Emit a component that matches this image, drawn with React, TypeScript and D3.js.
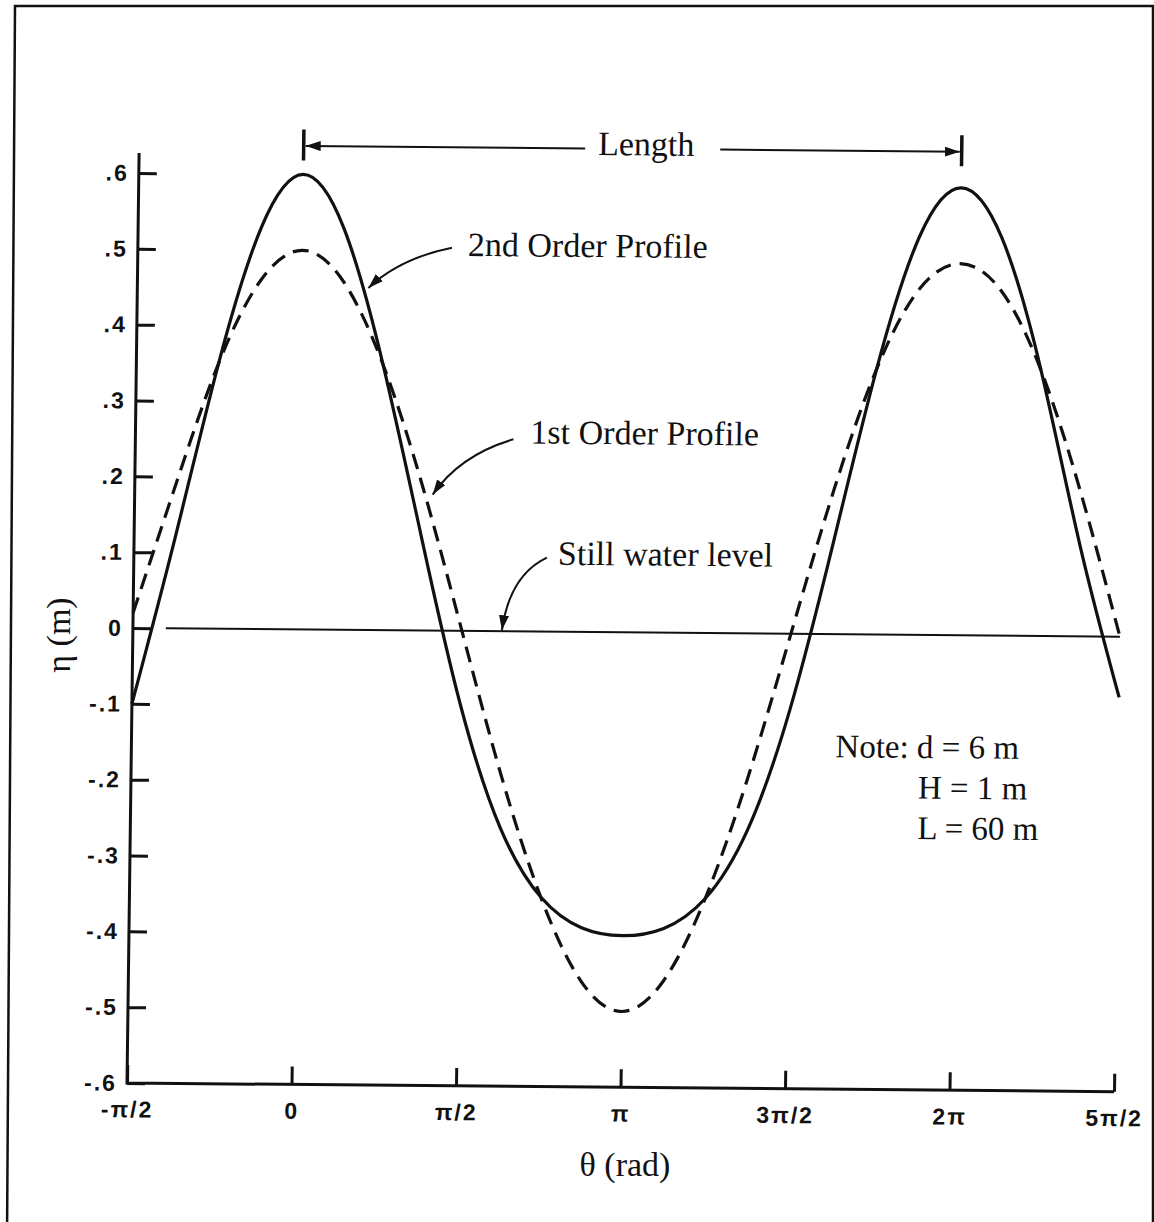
import * as d3 from 'd3';
import React, { useRef, useEffect } from 'react';

// phase angle, in units of pi
const thetaPi = [-0.5, -0.375, -0.25, -0.125, 0, 0.125, 0.25, 0.375, 0.5, 0.625, 0.75, 0.875, 1,
    1.125, 1.25, 1.375, 1.5, 1.625, 1.75, 1.875, 2, 2.125, 2.25, 2.375, 2.5];
// surface elevation (m)
const firstOrder = [0.02, 0.19, 0.35, 0.46, 0.50, 0.46, 0.35, 0.19, 0.0, -0.19, -0.35, -0.46, -0.50,
    -0.46, -0.35, -0.19, 0.0, 0.19, 0.35, 0.455, 0.49, 0.455, 0.35, 0.19, 0.0];
const secondOrder = [-0.10, 0.12, 0.35, 0.53, 0.60, 0.53, 0.35, 0.12, -0.10, -0.26, -0.35, -0.39, -0.40,
    -0.39, -0.35, -0.26, -0.10, 0.12, 0.35, 0.525, 0.59, 0.525, 0.35, 0.12, -0.08];

const yTicks = [0.6, 0.5, 0.4, 0.3, 0.2, 0.1, 0, -0.1, -0.2, -0.3, -0.4, -0.5, -0.6];
const xTicks = [-0.5, 0, 0.5, 1, 1.5, 2, 2.5];
const xTickLabels = ['-π/2', '0', 'π/2', 'π', '3π/2', '2π', '5π/2'];
const stillWater = [-0.4, 2.5];
const crests = [0, 2];
const noteLines = ['Note: d = 6 m', 'H = 1 m', 'L = 60 m'];

function WaveProfile() {
    const ref = useRef<SVGSVGElement>(null);

    useEffect(() => {
        draw();
    }, []);

    const draw = () => {
        const svg = d3.select(ref.current);
        svg.selectAll('*').remove();

        const ink = '#111';
        const serif = '"Liberation Serif", "Times New Roman", serif';
        const sans = '"Liberation Sans", Arial, sans-serif';

        const x = d3.scaleLinear().domain([-0.5, 2.5]).range([127, 1114]);
        const y = d3.scaleLinear().domain([-0.6, 0.6]).range([1083, 173]);
        const x0 = x(-0.5), y0 = y(-0.6);

        // page frame
        svg.append('path')
            .attr('d', 'M7,1240 L15,6 L1153,6 L1153,1240')
            .attr('fill', 'none')
            .attr('stroke', ink)
            .attr('stroke-width', 2.5);

        const defs = svg.append('defs');
        defs.append('marker')
            .attr('id', 'head')
            .attr('viewBox', '0 0 15 10')
            .attr('refX', 15).attr('refY', 5)
            .attr('markerWidth', 15).attr('markerHeight', 10)
            .attr('markerUnits', 'userSpaceOnUse')
            .attr('orient', 'auto')
            .append('path')
            .attr('d', 'M0,0L15,5L0,10z')
            .attr('fill', ink);

        // the scan is slightly sheared
        const shx = -0.013, shy = 0.0088;
        const g = svg.append('g')
            .attr('transform', `matrix(1,${shy},${shx},1,${-shx * y0},${-shy * x0})`);

        // AXES
        const fmt = (d: number) => d === 0 ? '0' : (d < 0 ? '-' : '') + '.' + Math.round(Math.abs(d) * 10);
        const yAxis = d3.axisLeft(y)
            .tickValues(yTicks)
            .tickSizeInner(-18)
            .tickSizeOuter(0)
            .tickPadding(10)
            .tickFormat(d => fmt(+d));
        const ya = g.append('g').attr('transform', `translate(${x0},0)`).call(yAxis);
        ya.select('.domain').remove();

        const xAxis = d3.axisBottom(x)
            .tickValues(xTicks)
            .tickSizeInner(-18)
            .tickSizeOuter(0)
            .tickPadding(18)
            .tickFormat((d, i) => xTickLabels[i]);
        const xa = g.append('g').attr('transform', `translate(0,${y0})`).call(xAxis);
        xa.select('.domain').remove();

        [ya, xa].forEach(a => {
            a.selectAll('line').attr('stroke', ink).attr('stroke-width', 3);
            a.selectAll('text')
                .attr('font-family', sans)
                .attr('font-weight', 'bold')
                .attr('font-size', 23)
                .attr('letter-spacing', 2)
                .attr('fill', ink);
        });

        g.append('path')
            .attr('d', `M${x0},${y(0.6) - 20} L${x0},${y0} L${x(2.5)},${y0}`)
            .attr('fill', 'none')
            .attr('stroke', ink)
            .attr('stroke-width', 3);

        // STILL WATER LEVEL
        g.append('line')
            .attr('x1', x(stillWater[0])).attr('x2', x(stillWater[1]))
            .attr('y1', y(0)).attr('y2', y(0))
            .attr('stroke', ink)
            .attr('stroke-width', 2);

        // PROFILES
        const line = d3.line<number>()
            .x((d, i) => x(thetaPi[i]))
            .y(d => y(d))
            .curve(d3.curveNatural);

        g.append('path')
            .attr('d', line(firstOrder))
            .attr('fill', 'none')
            .attr('stroke', ink)
            .attr('stroke-width', 3.2)
            .attr('stroke-dasharray', '16 9');

        g.append('path')
            .attr('d', line(secondOrder))
            .attr('fill', 'none')
            .attr('stroke', ink)
            .attr('stroke-width', 3.2);

        // LENGTH DIMENSION
        const top = y(0.6);
        crests.forEach(c => {
            g.append('line')
                .attr('x1', x(c)).attr('x2', x(c))
                .attr('y1', top - 45).attr('y2', top - 14)
                .attr('stroke', ink).attr('stroke-width', 3.5);
        });
        const ay = top - 28.5;
        g.append('line')
            .attr('x1', 573).attr('x2', x(crests[0]) + 2)
            .attr('y1', ay).attr('y2', ay)
            .attr('stroke', ink).attr('stroke-width', 2)
            .attr('marker-end', 'url(#head)');
        g.append('line')
            .attr('x1', 708).attr('x2', x(crests[1]) - 2)
            .attr('y1', ay).attr('y2', ay)
            .attr('stroke', ink).attr('stroke-width', 2)
            .attr('marker-end', 'url(#head)');
        g.append('text')
            .attr('x', 634).attr('y', top - 22)
            .attr('text-anchor', 'middle')
            .attr('font-family', serif).attr('font-size', 34).attr('fill', ink)
            .text('Length');

        // CALLOUTS
        const callouts = [
            { text: '2nd Order Profile', tx: 457, ty: 253, d: 'M441,245 Q389,256 358,286' },
            { text: '1st Order Profile', tx: 522, ty: 440, d: 'M505,436 Q452,452 425,492' },
            { text: 'Still water level', tx: 551, ty: 561, d: 'M540,554 Q503,572 496,627' },
        ];
        callouts.forEach(c => {
            g.append('text')
                .attr('x', c.tx).attr('y', c.ty)
                .attr('font-family', serif).attr('font-size', 34).attr('fill', ink)
                .text(c.text);
            g.append('path')
                .attr('d', c.d)
                .attr('fill', 'none')
                .attr('stroke', ink).attr('stroke-width', 2)
                .attr('marker-end', 'url(#head)');
        });

        // NOTE
        const note = g.append('g')
            .attr('font-family', serif).attr('font-size', 33).attr('fill', ink);
        noteLines.forEach((t, i) => {
            note.append('text')
                .attr('x', i === 0 ? 831 : 914)
                .attr('y', 751 + i * 40.5)
                .text(t);
        });

        // AXIS TITLES
        svg.append('text')
            .attr('x', 625).attr('y', 1176)
            .attr('text-anchor', 'middle')
            .attr('font-family', serif).attr('font-size', 34).attr('fill', ink)
            .text('θ (rad)');
        svg.append('text')
            .attr('transform', 'translate(70,635) rotate(-90)')
            .attr('text-anchor', 'middle')
            .attr('font-family', serif).attr('font-size', 34).attr('fill', ink)
            .text('η (m)');
    };

    return (
        <svg ref={ref} width={1154} height={1222}
            style={{ position: 'absolute', left: 0, top: 0, background: '#fff' }} />
    );
}

export default function App() {
    return <WaveProfile />;
}
